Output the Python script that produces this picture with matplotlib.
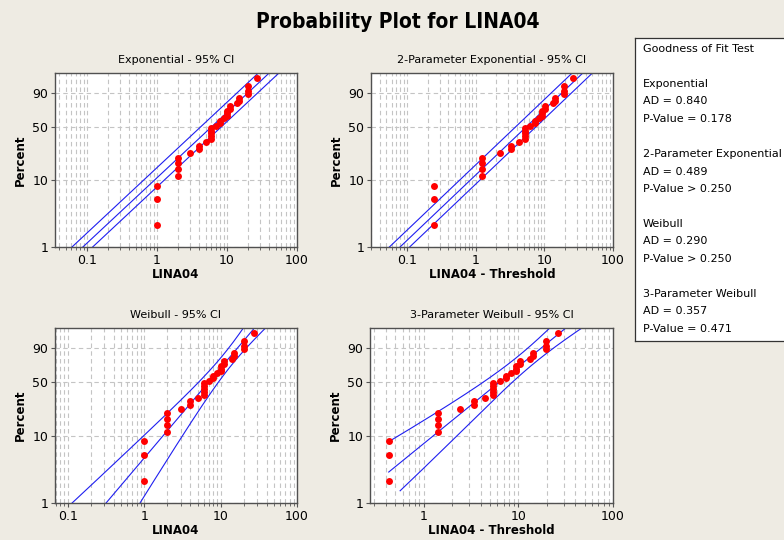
"""
Minitab-style distribution ID plot for LINA04: four probability plots
(Exponential, 2-Parameter Exponential, Weibull, 3-Parameter Weibull)
with 95% confidence bands and a goodness-of-fit summary box.
"""

import numpy as np
import matplotlib

matplotlib.use("Agg")
import matplotlib.pyplot as plt
from matplotlib.ticker import FixedLocator, FuncFormatter, LogLocator, NullFormatter

lina04 = [1, 1, 1, 2, 2, 2, 2, 3, 4, 4, 5, 6, 6, 6, 6, 6,
          7, 8, 8, 9, 10, 10, 10, 11, 11, 14, 15, 15, 20, 20, 20, 27]

# fitted parameters
exp_theta = 8.7
exp2_theta = 7.9
exp2_threshold = 0.75
exp_band = [0.70, 1.38]            # CI factors on the exponential percentiles
wbl_shape, wbl_scale = 1.37, 9.1
wbl3_shape, wbl3_scale = 1.17, 8.6
wbl3_threshold = 0.576
wbl3_skew = [0.063, -0.042]        # 3-par bands are lopsided towards the bottom

percent_ticks = [1, 10, 50, 90]

panel_titles = ["Exponential - 95% CI", "2-Parameter Exponential - 95% CI",
                "Weibull - 95% CI", "3-Parameter Weibull - 95% CI"]
panel_xlabels = ["LINA04", "LINA04 - Threshold", "LINA04", "LINA04 - Threshold"]

gof_lines = ["Goodness of Fit Test", "",
             "Exponential", "AD = 0.840", "P-Value = 0.178", "",
             "2-Parameter Exponential", "AD = 0.489", "P-Value > 0.250", "",
             "Weibull", "AD = 0.290", "P-Value > 0.250", "",
             "3-Parameter Weibull", "AD = 0.357", "P-Value = 0.471"]

BG = "#EEEBE3"
BLUE = "#1F1FF0"
W, H = 784, 540

plt.rcParams["font.family"] = "DejaVu Sans"


def pct_fwd(p):
    p = np.clip(np.asarray(p, dtype=float) / 100.0, 1e-12, 1 - 1e-12)
    return np.log(-np.log(1 - p))


def pct_inv(w):
    return 100.0 * (1 - np.exp(-np.exp(w)))


def wbl_halfwidth(w, shape, n):
    # asymptotic 95% half-width of ln(x_p) for a Weibull MLE fit
    var = (1.109 - 0.514 * w + 0.608 * w ** 2) / (n * shape ** 2)
    return 1.96 * np.sqrt(var)


data = np.sort(np.array(lina04, dtype=float))
n = len(data)
ranks = np.arange(1, n + 1)
plot_pct = (ranks - 0.3) / (n + 0.4) * 100  # median ranks

pct_grid = np.linspace(0.2, 99.95, 3000)
w_grid = pct_fwd(pct_grid)
q_grid = np.exp(w_grid)                        # -ln(1 - p)
w_top = pct_fwd(99)

fig = plt.figure(figsize=(W / 100, H / 100), dpi=100, facecolor=BG)
fig.text(398 / W, 1 - 22 / H, "Probability Plot for LINA04", ha="center",
         va="center", fontsize=15, fontweight="bold", fontstretch="condensed")

# axes boxes in pixels: left, top, right, bottom
boxes = [(55, 73, 297, 247), (371, 73, 613, 247),
         (55, 328, 297, 503), (370, 328, 613, 503)]
xlims = [(0.035, 100), (0.03, 100), (0.068, 100), (0.27, 100)]

axes = []
for (l, t, r, b), title, xlabel, xlim in zip(boxes, panel_titles, panel_xlabels, xlims):
    ax = fig.add_axes([l / W, 1 - b / H, (r - l) / W, (b - t) / H])
    ax.set_xscale("log")
    ax.set_yscale("function", functions=(pct_fwd, pct_inv))
    ax.set_xlim(*xlim)
    ax.set_ylim(1, 99)
    ax.yaxis.set_major_locator(FixedLocator(percent_ticks))
    ax.yaxis.set_major_formatter(FuncFormatter(lambda v, _: f"{v:g}"))
    ax.xaxis.set_major_locator(LogLocator(base=10))
    ax.xaxis.set_minor_locator(LogLocator(base=10, subs=np.arange(2, 10)))
    ax.xaxis.set_major_formatter(FuncFormatter(lambda v, _: f"{v:g}"))
    ax.xaxis.set_minor_formatter(NullFormatter())
    ax.grid(axis="x", which="both", color="#C4C4C4", linestyle=(0, (4, 3)), linewidth=0.8)
    ax.grid(axis="y", which="major", color="#C4C4C4", linestyle=(0, (4, 3)), linewidth=0.8)
    ax.set_axisbelow(True)
    ax.tick_params(axis="both", which="major", labelsize=9, length=3, color="#555555", pad=2)
    ax.tick_params(axis="x", which="minor", length=2, color="#555555")
    for s in ax.spines.values():
        s.set_color("#505050")
        s.set_linewidth(1.0)
    ax.set_title(title, fontsize=8, pad=7)
    ax.set_xlabel(xlabel, fontsize=8.5, fontweight="bold", labelpad=1)
    ax.set_ylabel("Percent", fontsize=8.5, fontweight="bold", labelpad=4)
    axes.append(ax)

line_kw = dict(color=BLUE, linewidth=0.8)
dot_kw = dict(color="red", ms=5.0, mec="none", ls="none", marker="o")

# Exponential
ax = axes[0]
for f in [exp_band[0], 1.0, exp_band[1]]:
    ax.plot(exp_theta * f * q_grid, pct_grid, **line_kw)
ax.plot(data, plot_pct, **dot_kw)

# 2-Parameter Exponential
ax = axes[1]
for f in [exp_band[0], 1.0, exp_band[1]]:
    ax.plot(exp2_theta * f * q_grid, pct_grid, **line_kw)
ax.plot(data - exp2_threshold, plot_pct, **dot_kw)

# Weibull
ax = axes[2]
centre = np.log(wbl_scale) + w_grid / wbl_shape
h = wbl_halfwidth(w_grid, wbl_shape, n)
for off in [-h, 0 * h, h]:
    ax.plot(np.exp(centre + off), pct_grid, **line_kw)
ax.plot(data, plot_pct, **dot_kw)

# 3-Parameter Weibull: lines start at 1.5% and are cut at the smallest point
ax = axes[3]
shifted = data - wbl3_threshold
x_min = shifted.min()
keep = pct_grid >= 1.5
w3 = w_grid[keep]
p3 = pct_grid[keep]
centre = np.log(wbl3_scale) + w3 / wbl3_shape
h = wbl_halfwidth(w3, wbl3_shape, n)
lo = centre - h * (1 + wbl3_skew[0] * (w_top - w3))
hi = centre + h * (1 + wbl3_skew[1] * (w_top - w3))
for curve in [lo, centre, hi]:
    x = np.exp(curve)
    m = x >= x_min
    ax.plot(x[m], p3[m], **line_kw)
ax.plot(shifted, plot_pct, **dot_kw)

# goodness-of-fit box
box = fig.add_axes([635 / W, 1 - 341 / H, 160 / W, 303 / H])
box.set_xticks([])
box.set_yticks([])
box.set_facecolor("white")
for s in box.spines.values():
    s.set_color("#333333")
    s.set_linewidth(0.9)
for i, line in enumerate(gof_lines):
    fig.text(643 / W, 1 - (49 + i * 17.5) / H, line, fontsize=8, va="center", ha="left")

fig.savefig("out.png", dpi=100, facecolor=BG)
